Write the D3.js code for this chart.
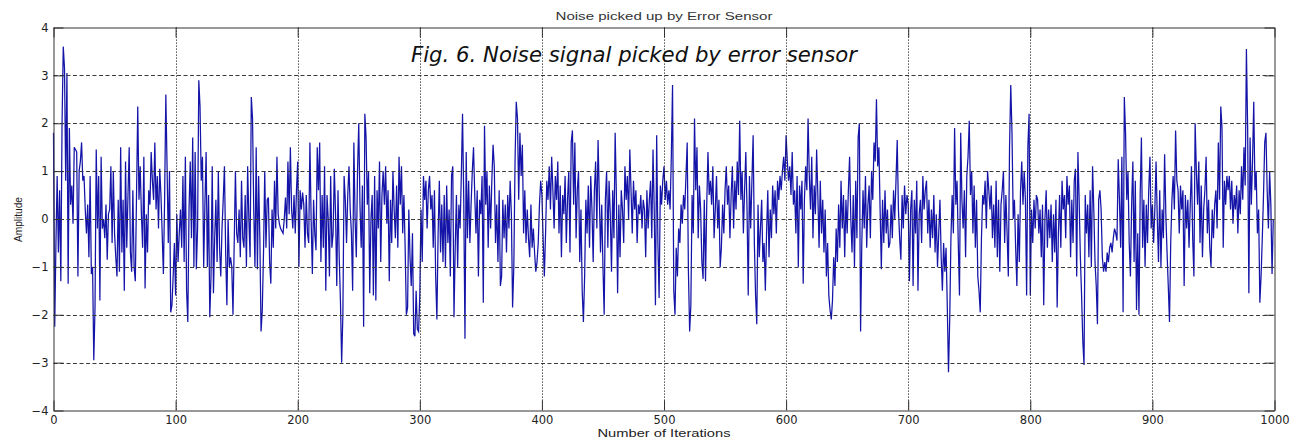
<!DOCTYPE html>
<html>
<head>
<meta charset="utf-8">
<script src="https://cdn.jsdelivr.net/npm/d3@7"></script>
<style>
  html, body { margin: 0; padding: 0; background: #fff; }
  svg { display: block; }
</style>
</head>
<body>
<svg id="chart" width="1298" height="443"></svg>
<script>
// ---- data ----
const chartTitle = "Noise picked up by Error Sensor";
const figCaption = "Fig. 6. Noise signal picked by error sensor";
const xLabel = "Number of Iterations";
const yLabel = "Amplitude";
const xTicks = [0, 100, 200, 300, 400, 500, 600, 700, 800, 900, 1000];
const yTicks = [-4, -3, -2, -1, 0, 1, 2, 3, 4];
const amplitude = [
 1.8,-2.25,-0.5,0.9,-0.7,0.6,-1.3,2.0,3.6,3.15,0.8,3.05,-1.35,1.9,0.3,0.7,-0.1,1.5,1.45,1.4,-1.2,1.0,1.2,1.6,0.8,
 0.9,0.2,-0.3,0.3,-0.8,0.9,-1.15,-1.0,-2.95,-1.85,1.45,-0.2,0.9,-1.7,1.3,-0.2,0.0,-0.4,0.3,-0.85,0.1,0.2,1.1,-0.5,1.0,
 -0.3,-0.8,-1.2,0.4,-1.1,1.5,-0.7,0.4,-1.5,1.2,-0.6,0.5,1.5,-0.7,-1.1,0.6,-1.0,-1.3,0.5,2.35,0.4,1.1,0.1,-0.6,1.3,
 -1.45,0.1,-0.7,0.6,0.3,1.4,0.8,0.4,1.6,0.2,0.9,-0.2,1.05,0.5,-0.3,-1.15,0.4,2.6,1.1,-0.5,1.0,-1.95,-1.8,-1.2,-0.5,
 -1.6,0.1,-0.9,-0.3,0.2,-0.6,0.9,-0.9,1.3,-1.5,-2.15,0.2,1.2,-0.4,1.7,-1.0,1.4,-1.05,-0.2,2.9,2.35,0.8,1.3,-1.0,0.3,
 1.4,-1.0,0.5,-2.05,-1.2,1.1,-1.55,-0.4,0.4,-0.9,1.0,-0.6,-1.2,-0.2,0.4,1.1,-0.7,-1.8,0.0,-1.0,-0.8,-1.0,-2.0,-0.5,1.0,
 -0.3,-0.5,0.2,-0.8,0.8,-0.4,-0.6,0.5,-1.0,1.1,0.0,-0.8,2.55,2.1,0.2,-1.0,1.5,-1.05,0.9,-0.4,-2.35,-1.9,-0.7,1.0,-0.6,
 0.4,0.45,-0.9,-1.35,0.2,-0.6,0.8,-0.2,1.3,0.1,-0.1,-0.2,-0.25,-0.3,0.0,0.45,-0.2,1.2,0.1,1.5,0.2,-0.2,0.5,-0.3,0.6,
 1.2,-1.0,0.6,0.2,0.55,0.3,-0.6,0.5,-0.3,-0.5,1.6,0.0,-1.15,0.4,-0.3,-0.65,1.5,0.6,1.6,-0.9,0.5,-0.6,1.1,-1.5,0.5,
 0.0,-1.2,0.9,-0.6,-0.3,1.05,0.1,-1.4,0.6,-0.8,-1.7,-3.0,-2.0,0.9,0.4,-0.5,0.5,1.1,0.2,-0.3,-1.5,1.6,0.0,-0.8,1.0,
 2.0,0.3,-0.6,0.7,-2.25,2.2,1.7,0.3,1.0,-1.55,0.0,0.5,-1.6,0.9,-1.7,0.6,-0.2,1.2,-0.9,0.5,1.0,0.3,1.1,-0.1,0.6,
 -1.3,0.4,-0.5,1.0,0.2,-0.4,0.7,-0.6,1.3,0.3,1.1,-0.3,0.5,-0.6,-2.0,-1.85,0.2,-0.8,-1.4,-0.3,-2.4,-2.45,-1.5,-2.3,-2.35,
 -1.6,0.2,-0.9,0.9,0.4,0.8,-0.2,0.6,0.9,0.2,0.5,-0.6,0.6,-1.2,-2.1,-0.3,0.8,-0.7,0.3,-0.9,0.5,-1.0,0.7,-0.5,0.2,
 -1.2,0.9,1.1,-2.05,-0.6,0.5,-1.0,0.3,-0.2,0.9,2.2,0.4,-2.5,1.4,-0.4,0.8,-0.5,0.3,1.0,1.5,0.5,-0.3,0.6,-1.2,0.4,
 0.1,0.9,-1.75,1.95,0.3,1.0,-0.6,0.7,-0.2,0.8,1.55,1.1,-0.5,0.3,-0.9,0.6,-1.4,-1.2,0.4,-0.4,0.3,-0.7,0.5,-0.2,0.8,
 0.1,-1.85,-1.0,1.2,2.45,2.1,0.4,1.8,0.9,1.55,-0.3,0.6,-0.5,0.2,-0.4,-0.8,0.3,-0.6,-0.2,-0.7,-1.1,-0.9,-0.5,0.3,0.8,
 0.5,-0.4,-1.2,-0.3,0.8,0.4,1.1,0.2,1.3,0.6,-0.2,0.9,0.4,1.2,-0.3,0.7,-0.8,0.5,0.1,0.9,-0.5,0.4,1.0,-0.7,1.6,
 1.85,0.3,1.6,-0.4,0.6,1.0,-0.9,0.2,-1.5,-2.15,-1.2,0.4,-0.3,0.7,-0.6,0.9,0.2,-0.9,0.6,1.2,-0.2,1.65,0.5,-0.7,0.3,
 -1.0,-2.0,0.4,1.0,-0.6,0.8,0.1,-1.1,0.6,-0.4,1.8,0.5,-1.55,0.3,-0.8,0.6,0.2,-0.5,1.1,0.4,0.9,0.0,1.45,0.6,-0.3,
 0.8,0.2,0.6,-0.5,0.3,0.1,0.5,-0.2,0.4,0.2,-0.8,0.6,-0.2,0.4,0.8,-0.4,1.45,0.2,-1.8,1.75,-0.5,-1.65,0.7,0.3,0.8,
 1.1,0.4,0.8,0.3,0.6,0.2,1.3,2.8,-1.5,-2.0,-0.6,-1.2,-0.2,-0.5,0.3,-0.1,0.5,0.2,0.9,1.6,-1.1,-2.35,-1.8,0.5,-0.3,
 2.1,0.6,1.5,-0.4,0.7,0.2,-0.9,-1.25,0.4,-1.3,0.3,1.4,0.5,0.8,0.3,1.1,-0.4,0.2,0.9,-0.2,0.4,-1.0,-0.6,0.3,-0.3,
 0.6,1.1,0.3,0.7,-0.4,0.5,1.1,-0.2,0.8,0.2,1.2,0.5,2.05,0.4,1.0,-0.3,0.6,1.4,0.2,-1.6,0.9,-0.2,0.8,1.75,-0.5,
 -1.6,-2.2,0.3,-0.8,-0.2,0.4,-0.9,-0.5,-1.5,-0.3,0.6,-0.8,0.2,-0.4,0.7,0.1,0.6,-0.3,0.8,0.4,0.9,0.6,1.0,1.3,0.8,
 1.75,1.2,0.8,1.1,0.5,1.4,0.3,0.6,-0.3,0.9,-1.0,0.7,0.2,0.8,-1.35,0.4,1.1,0.6,2.1,0.9,0.2,1.3,-0.4,0.7,0.1,
 1.45,0.5,-0.6,0.8,-0.3,0.4,-0.7,0.2,-1.2,-0.5,-1.6,-1.9,-2.1,-1.7,-0.8,-1.4,-0.2,-0.9,0.3,-0.6,0.8,-0.2,0.5,-0.8,0.4,
 -0.3,0.6,1.3,0.0,-0.7,0.5,-1.0,0.8,-0.4,1.7,2.0,-2.35,-0.5,0.6,-0.2,0.9,-0.6,0.3,0.7,-0.4,1.0,0.4,1.6,1.2,2.5,
 1.1,1.5,0.2,-1.05,0.4,-0.5,0.6,-0.3,0.2,-0.6,-0.5,0.3,-0.4,0.6,0.0,0.8,1.65,0.2,-0.4,-0.85,0.5,-0.2,0.7,0.1,0.5,
 0.3,-1.3,0.2,0.6,-1.4,0.4,-0.3,0.8,-1.5,0.1,0.4,-0.5,0.9,0.2,0.6,0.8,-0.3,0.4,-0.6,0.2,-0.4,0.5,-0.7,0.1,-1.0,
 -0.3,0.4,-0.8,-1.5,-0.5,-1.1,-0.6,-1.8,-3.2,-2.1,-0.4,0.5,-0.3,1.9,0.3,0.8,-0.5,-1.6,1.8,0.4,-0.2,0.6,-0.8,0.9,1.3,
 2.05,0.5,1.0,-0.3,0.7,-0.6,0.4,-1.2,-1.5,-1.95,-0.4,0.5,0.3,0.8,-0.2,1.0,0.6,0.2,0.7,-0.4,0.3,-0.6,0.8,-0.8,0.4,
 -1.1,0.3,0.6,1.0,-0.5,0.5,-0.3,-1.2,1.5,2.8,1.8,0.0,0.4,-0.6,-1.4,0.1,-0.9,0.6,1.2,0.3,1.0,0.4,-1.6,1.5,2.2,
 -1.6,0.2,-0.5,0.4,-0.2,0.5,0.4,-0.3,0.2,-0.8,0.3,-1.8,0.0,0.6,-0.6,0.2,-0.4,0.3,-0.9,0.1,-0.7,0.4,-1.85,-0.3,0.5,
 -0.6,0.8,0.2,0.5,-0.4,0.9,0.3,0.7,-0.8,0.4,-0.5,0.8,1.05,-1.2,1.4,0.4,-0.8,-1.6,-2.55,-3.05,0.5,-0.3,0.3,-0.8,0.6,
 -1.0,1.1,0.2,-0.9,-1.4,-2.2,0.4,0.6,0.2,-0.8,-1.1,-0.9,-1.1,-0.7,-0.9,-0.6,-0.5,-0.7,-0.4,-0.2,-0.3,-0.45,1.25,0.4,-0.6,
 1.3,-1.95,2.55,1.8,0.4,1.0,-0.5,-1.2,0.3,1.2,-0.9,0.8,-1.9,-0.3,-2.0,0.5,1.7,-0.6,0.4,-1.0,0.3,-0.5,0.6,1.3,-0.2,
 0.3,-0.5,0.2,1.2,0.0,-0.9,0.6,-1.0,0.2,-0.4,1.35,0.1,-0.7,-1.4,-2.15,-0.5,0.4,0.9,0.2,1.85,0.8,0.6,-0.3,0.7,0.2,
 0.6,-1.4,0.5,-0.2,0.4,-0.6,0.3,1.1,-0.4,-1.2,2.0,1.0,0.3,1.2,-0.5,0.7,-0.8,0.2,0.6,1.3,-0.3,0.4,-0.6,-1.0,0.2,
 -0.4,0.3,0.6,-0.2,1.6,0.4,2.35,1.9,-0.6,0.8,0.3,0.9,0.6,0.9,0.2,0.8,-0.1,0.5,0.2,0.7,-0.3,0.6,0.1,1.1,0.4,
 1.5,0.7,3.55,1.9,-1.55,1.7,0.3,1.2,2.45,0.6,1.0,-0.3,0.2,-1.75,-1.2,-0.4,0.5,1.6,1.8,0.6,-0.2,1.0,0.3,-1.15,0.0
];

// ---- layout ----
const svg = d3.select("#chart");
const L = 53.5, R = 1274.5, T = 27.5, B = 410.5;

svg.append("rect").attr("width", 1298).attr("height", 443).attr("fill", "#fff");

const x = d3.scaleLinear().domain([0, 1000]).range([L, R]);
const y = d3.scaleLinear().domain([-4, 4]).range([B, T]);

// signal
const line = d3.line().x((d, i) => x(i)).y(d => y(d));
svg.append("path")
  .datum(amplitude)
  .attr("fill", "none")
  .attr("stroke", "#1414a8")
  .attr("stroke-width", 1.25)
  .attr("stroke-linejoin", "miter")
  .attr("d", line);

// grid (drawn over the data, as in the reference)
const grid = svg.append("g");
grid.selectAll("line.h")
  .data(yTicks.filter(v => v > -4 && v < 4))
  .join("line")
  .attr("x1", L).attr("x2", R)
  .attr("y1", d => Math.round(y(d)) + 0.5).attr("y2", d => Math.round(y(d)) + 0.5)
  .attr("stroke", "#3a3a3a").attr("stroke-width", 1)
  .attr("stroke-dasharray", "4,2.5");
grid.selectAll("line.v")
  .data(xTicks.filter(v => v > 0 && v < 1000))
  .join("line")
  .attr("x1", d => Math.round(x(d)) + 0.5).attr("x2", d => Math.round(x(d)) + 0.5)
  .attr("y1", T).attr("y2", B)
  .attr("stroke", "#222").attr("stroke-width", 1)
  .attr("stroke-dasharray", "1.2,1.8");

// axes
function styleAxis(g, labels) {
  g.selectAll(".domain").attr("stroke", "#333").attr("stroke-width", 1);
  g.selectAll(".tick line").attr("stroke", "#333");
  g.selectAll(".tick text")
    .attr("fill", "#222")
    .style("font-family", "'DejaVu Sans', sans-serif")
    .style("font-size", "11.5px");
  if (!labels) g.selectAll(".tick text").remove();
}
svg.append("g").attr("transform", `translate(0,${B})`)
  .call(d3.axisBottom(x).tickValues(xTicks).tickFormat(d3.format("d")).tickSize(-10).tickSizeOuter(0).tickPadding(5.3))
  .call(g => styleAxis(g, true));
svg.append("g").attr("transform", `translate(0,${T})`)
  .call(d3.axisTop(x).tickValues(xTicks).tickSize(-10).tickSizeOuter(0))
  .call(g => styleAxis(g, false));
svg.append("g").attr("transform", `translate(${L},0)`)
  .call(d3.axisLeft(y).tickValues(yTicks).tickFormat(d3.format("d")).tickSize(-10).tickSizeOuter(0).tickPadding(5))
  .call(g => styleAxis(g, true));
svg.append("g").attr("transform", `translate(${R},0)`)
  .call(d3.axisRight(y).tickValues(yTicks).tickSize(-10).tickSizeOuter(0))
  .call(g => styleAxis(g, false));

// texts
svg.append("text")
  .attr("x", (L + R) / 2).attr("y", 19.5)
  .attr("text-anchor", "middle")
  .attr("textLength", 217).attr("lengthAdjust", "spacingAndGlyphs")
  .style("font-family", "'Liberation Sans', Arial, sans-serif")
  .style("font-size", "10.8px")
  .attr("fill", "#333")
  .text(chartTitle);

svg.append("text")
  .attr("x", 411).attr("y", 62)
  .attr("textLength", 446).attr("lengthAdjust", "spacingAndGlyphs")
  .style("font-family", "'DejaVu Sans', sans-serif")
  .style("font-style", "italic")
  .style("font-size", "21.5px")
  .attr("fill", "#111")
  .text(figCaption);

svg.append("text")
  .attr("x", (L + R) / 2).attr("y", 436.5)
  .attr("text-anchor", "middle")
  .attr("textLength", 133).attr("lengthAdjust", "spacingAndGlyphs")
  .style("font-family", "'Liberation Sans', Arial, sans-serif")
  .style("font-size", "11.5px")
  .attr("fill", "#222")
  .text(xLabel);

svg.append("text")
  .attr("transform", "translate(21.5,219.5) rotate(-90)")
  .attr("text-anchor", "middle")
  .attr("textLength", 45).attr("lengthAdjust", "spacingAndGlyphs")
  .style("font-family", "'Liberation Sans', Arial, sans-serif")
  .style("font-size", "10.5px")
  .attr("fill", "#222")
  .text(yLabel);
</script>
</body>
</html>
